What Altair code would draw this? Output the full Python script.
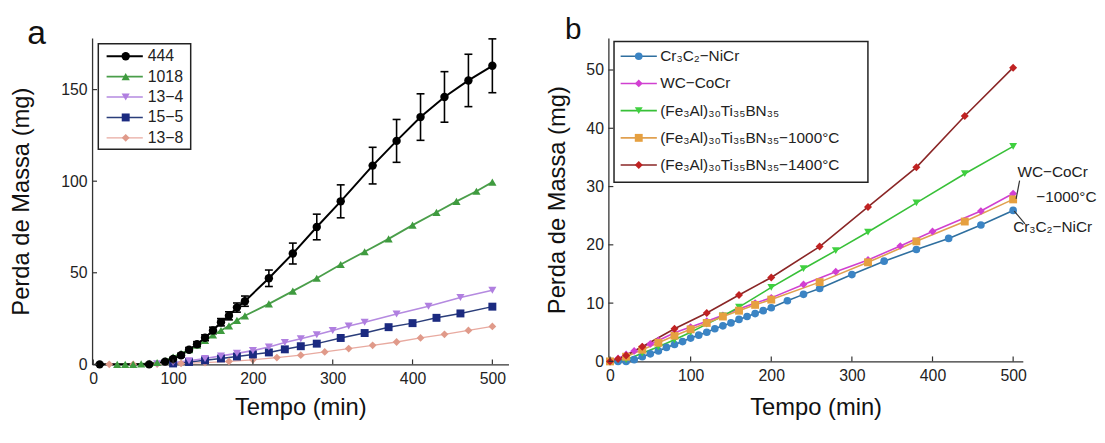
import altair as alt
import pandas as pd

FONT = "Liberation Sans"
AX = "#333333"

# ---------------- Panel a data ----------------
a_names = ["444", "1018", "13−4", "15−5", "13−8"]
a_444_x = [8, 70, 90, 100, 110, 120, 130, 140, 150, 160, 170, 180, 190, 220, 250, 280, 310, 350, 380, 410, 440, 470, 500]
a_444_y = [0, 0, 1.5, 3, 5, 8, 11, 14.5, 18.5, 23, 26.5, 31, 34.5, 47, 60.5, 75, 89, 108.5, 122, 135, 146, 155, 163]
a_444_err = [0.3, 0.4, 0.6, 0.8, 1.0, 1.2, 1.4, 1.6, 1.8, 2.0, 2.2, 2.5, 2.8, 4.5, 5.7, 7, 9, 10, 11.7, 12.7, 13.8, 14.3, 14.7]
a_1018_x = [30, 40, 50, 60, 70, 80, 90, 100, 110, 120, 130, 140, 150, 160, 170, 180, 190, 220, 250, 280, 310, 340, 370, 400, 430, 455, 480, 500]
a_1018_y = [0, 0, 0, 0.3, 0.5, 1, 2, 4, 6, 8, 10.5, 13, 16, 18.5, 21, 24, 26.5, 33, 40, 47, 54.5, 61.5, 68.5, 76, 83, 89, 94.5, 99.5]
a_134_x = [80, 100, 120, 140, 160, 180, 200, 220, 240, 260, 280, 300, 320, 340, 380, 420, 460, 500]
a_134_y = [0.3, 1, 2, 3.2, 4.6, 6, 7.5, 9.5, 11.9, 14, 16.2, 18.5, 20.9, 23, 27.5, 31.7, 36.5, 40.5]
a_155_x = [100, 120, 140, 160, 180, 200, 220, 240, 260, 280, 310, 340, 370, 400, 430, 460, 500]
a_155_y = [0.5, 1.3, 2.2, 3.2, 4.3, 5.4, 6.5, 8.2, 9.9, 11.3, 14.4, 17.1, 20.3, 22.5, 25.4, 27.8, 31.5]
a_138_x = [20, 50, 80, 110, 140, 170, 200, 230, 260, 290, 320, 350, 380, 410, 440, 470, 500]
a_138_y = [0, 0, 0.2, 0.5, 1, 1.6, 2.5, 3.7, 5, 6.8, 8.6, 10.4, 12.2, 14.4, 16.4, 18.5, 20.7]
a_xticks = [0, 100, 200, 300, 400, 500]
a_yticks = [0, 50, 100, 150]

# ---------------- Panel b data ----------------
b_names = ["Cr₃C₂−NiCr", "WC−CoCr", "(Fe₃Al)₃₀Ti₃₅BN₃₅",
           "(Fe₃Al)₃₀Ti₃₅BN₃₅−1000°C", "(Fe₃Al)₃₀Ti₃₅BN₃₅−1400°C"]
b_cr_x = [0, 10, 20, 30, 40, 50, 60, 70, 80, 90, 100, 110, 120, 130, 140, 150, 160, 170, 180, 190, 200, 220, 240, 260, 300, 340, 380, 420, 460, 500]
b_cr_y = [0, 0, 0, 0.3, 0.8, 1.3, 1.8, 2.4, 2.9, 3.4, 4, 4.5, 5, 5.6, 6.1, 6.6, 7.2, 7.7, 8.2, 8.7, 9.2, 10.4, 11.5, 12.5, 14.9, 17.2, 19.2, 21.1, 23.4, 25.9]
b_wc_x = [0, 10, 20, 30, 40, 50, 60, 80, 100, 120, 140, 160, 180, 200, 240, 280, 320, 360, 400, 460, 500]
b_wc_y = [0, 0.5, 1.2, 1.8, 2.5, 3.0, 3.6, 4.9, 5.9, 6.9, 7.9, 9, 10, 10.9, 13.2, 15.4, 17.4, 19.8, 22.3, 25.8, 28.8]
b_fe_x = [0, 20, 40, 60, 80, 100, 120, 140, 160, 200, 240, 280, 320, 380, 440, 500]
b_fe_y = [0, 0.3, 1.4, 2.5, 3.7, 5.0, 6.4, 7.8, 9.3, 12.7, 15.9, 19.0, 22.2, 27.2, 32.2, 36.9]
b_1000_x = [0, 20, 40, 60, 80, 100, 120, 140, 160, 180, 200, 260, 320, 380, 440, 500]
b_1000_y = [0, 0.8, 2.0, 3.2, 4.4, 5.5, 6.6, 7.7, 8.7, 9.7, 10.6, 13.6, 17.0, 20.6, 24.0, 27.8]
b_1400_x = [0, 10, 20, 40, 80, 120, 160, 200, 260, 320, 380, 440, 500]
b_1400_y = [0, 0.4, 1.0, 2.5, 5.6, 8.3, 11.4, 14.4, 19.7, 26.5, 33.3, 42.1, 50.4]
b_xticks = [0, 100, 200, 300, 400, 500]
b_yticks = [0, 10, 20, 30, 40, 50]

ann_text = ["WC−CoCr", "−1000°C", "Cr₃C₂−NiCr"]
ann_x = [549, 566, 549]
ann_y = [32.5, 28.2, 23.1]
lead_x = [503.7, 501.4]
lead_x2 = [508, 514.7]
lead_y = [27.9, 25.8]
lead_y2 = [31.0, 23.6]

panel_tags = ["a", "b"]


def long_df(names, xs, ys):
    rows = []
    for i, (n, x, y) in enumerate(zip(names, xs, ys)):
        for xv, yv in zip(x, y):
            rows.append({"s": n, "o": i, "x": xv, "y": yv})
    return pd.DataFrame(rows)


# ================= Panel a =================
A_W, A_H = 421, 330
xa = alt.Scale(domain=[-1.5, 520.2], nice=False, zero=False)
ya = alt.Scale(domain=[0, 178.2], nice=False)
ax_xa = alt.Axis(values=a_xticks, title="Tempo (min)", titlePadding=10)
ax_ya = alt.Axis(values=a_yticks, title="Perda de Massa (mg)", titlePadding=28)

shape_a = alt.Scale(domain=a_names, range=["circle", "triangle-up", "triangle-down", "square", "diamond"])
fill_a = alt.Scale(domain=a_names, range=["#000000", "#3f9b3f", "#b07fe0", "#1b2a80", "#e09a8a"])
stroke_a = alt.Scale(domain=a_names, range=["#000000", "#4a9e4a", "#b58ae0", "#2a3d7a", "#e8aaa0"])
sw_a = alt.Scale(domain=a_names, range=[2.0, 1.3, 1.3, 1.6, 1.3])
size_a = alt.Scale(domain=a_names, range=[72, 62, 62, 48, 62])

df_a = long_df(a_names, [a_444_x, a_1018_x, a_134_x, a_155_x, a_138_x],
               [a_444_y, a_1018_y, a_134_y, a_155_y, a_138_y])
df_a = df_a.iloc[::-1].reset_index(drop=True)
df_err = pd.DataFrame({"x": a_444_x,
                       "lo": [y - e for y, e in zip(a_444_y, a_444_err)],
                       "hi": [y + e for y, e in zip(a_444_y, a_444_err)]})

base_a = alt.Chart(df_a)
lines_a = base_a.mark_line().encode(
    x=alt.X("x:Q", scale=xa, axis=ax_xa),
    y=alt.Y("y:Q", scale=ya, axis=ax_ya),
    stroke=alt.Stroke("s:N", scale=stroke_a, legend=None),
    strokeWidth=alt.StrokeWidth("s:N", scale=sw_a, legend=None),
    order=alt.Order("o:Q", sort="descending"),
)
err_a = alt.Chart(df_err).mark_rule(color="black", strokeWidth=1.6).encode(
    x=alt.X("x:Q", scale=xa, axis=ax_xa),
    y=alt.Y("lo:Q", scale=ya, axis=ax_ya),
    y2="hi:Q",
)
caplo_a = alt.Chart(df_err).mark_tick(orient="horizontal", size=8, thickness=1.6, color="black", opacity=1).encode(
    x=alt.X("x:Q", scale=xa, axis=ax_xa),
    y=alt.Y("lo:Q", scale=ya, axis=ax_ya),
)
caphi_a = alt.Chart(df_err).mark_tick(orient="horizontal", size=8, thickness=1.6, color="black", opacity=1).encode(
    x=alt.X("x:Q", scale=xa, axis=ax_xa),
    y=alt.Y("hi:Q", scale=ya, axis=ax_ya),
)
pts_a = base_a.mark_point(filled=True, opacity=1).encode(
    x=alt.X("x:Q", scale=xa, axis=ax_xa),
    y=alt.Y("y:Q", scale=ya, axis=ax_ya),
    shape=alt.Shape("s:N", scale=shape_a, legend=None),
    fill=alt.Fill("s:N", scale=fill_a, legend=None),
    size=alt.Size("s:N", scale=size_a, legend=None),
)
ytk_a = alt.Chart(pd.DataFrame({"v": a_yticks})).mark_rule(color=AX, strokeWidth=1.2).encode(
    y=alt.Y("v:Q", scale=ya, axis=ax_ya), x=alt.value(0), x2=alt.value(5))
xtk_a = alt.Chart(pd.DataFrame({"v": a_xticks})).mark_rule(color=AX, strokeWidth=1.2).encode(
    x=alt.X("v:Q", scale=xa, axis=ax_xa), y=alt.value(A_H), y2=alt.value(A_H - 5))

data_a = alt.layer(err_a, caplo_a, caphi_a, lines_a, pts_a, ytk_a, xtk_a)

leg_a = pd.DataFrame({"s": a_names, "r": list(range(len(a_names)))})
ly_a = alt.Y("r:Q", scale=alt.Scale(domain=[0, 4], range=[18.5, 101]), axis=None)
box_a = alt.Chart(pd.DataFrame({"k": [0]})).mark_rect(fill="white", stroke="#222222", strokeWidth=1.5).encode(
    x=alt.value(6.3), x2=alt.value(99.7), y=alt.value(5.9), y2=alt.value(112.5))
legl_a = alt.Chart(leg_a).mark_rule().encode(
    y=ly_a, x=alt.value(14.7), x2=alt.value(51.3),
    stroke=alt.Stroke("s:N", scale=stroke_a, legend=None),
    strokeWidth=alt.StrokeWidth("s:N", scale=sw_a, legend=None))
legp_a = alt.Chart(leg_a).mark_point(filled=True, opacity=1).encode(
    y=ly_a, x=alt.value(34),
    shape=alt.Shape("s:N", scale=shape_a, legend=None),
    fill=alt.Fill("s:N", scale=fill_a, legend=None),
    size=alt.Size("s:N", scale=size_a, legend=None))
legt_a = alt.Chart(leg_a).mark_text(align="left", baseline="middle", fontSize=16, font=FONT, color="#222").encode(
    y=ly_a, x=alt.value(56.3), text="s:N")
tag_a = alt.Chart(pd.DataFrame({"t": [panel_tags[0]]})).mark_text(
    align="center", baseline="alphabetic", fontSize=34, font=FONT, color="#111").encode(
    text="t:N", x=alt.value(-56), y=alt.value(6))

legend_a = alt.layer(box_a, legl_a, legp_a, legt_a, tag_a)
panel_a = alt.layer(data_a, legend_a).resolve_scale(x="independent", y="independent").properties(
    width=A_W, height=A_H)

# ================= Panel b =================
B_W, B_H = 419, 327
xb = alt.Scale(domain=[-2, 512], nice=False, zero=False)
yb = alt.Scale(domain=[0, 55.5], nice=False)
ax_xb = alt.Axis(values=b_xticks, title="Tempo (min)", titlePadding=13)
ax_yb = alt.Axis(values=b_yticks, title="Perda de Massa (mg)", titlePadding=17)

shape_b = alt.Scale(domain=b_names, range=["circle", "diamond", "triangle-down", "square", "diamond"])
fill_b = alt.Scale(domain=b_names, range=["#3b84c4", "#d23fd2", "#3fd03f", "#e6a040", "#c02222"])
stroke_b = alt.Scale(domain=b_names, range=["#2f6f9f", "#d040d0", "#38c038", "#e0a050", "#8a2626"])
size_b = alt.Scale(domain=b_names, range=[60, 65, 60, 48, 65])

df_b = long_df(b_names, [b_cr_x, b_wc_x, b_fe_x, b_1000_x, b_1400_x],
               [b_cr_y, b_wc_y, b_fe_y, b_1000_y, b_1400_y])
base_b = alt.Chart(df_b)
lines_b = base_b.mark_line(strokeWidth=1.6).encode(
    x=alt.X("x:Q", scale=xb, axis=ax_xb),
    y=alt.Y("y:Q", scale=yb, axis=ax_yb),
    stroke=alt.Stroke("s:N", scale=stroke_b, legend=None),
)
pts_b = base_b.mark_point(filled=True, opacity=1).encode(
    x=alt.X("x:Q", scale=xb, axis=ax_xb),
    y=alt.Y("y:Q", scale=yb, axis=ax_yb),
    shape=alt.Shape("s:N", scale=shape_b, legend=None),
    fill=alt.Fill("s:N", scale=fill_b, legend=None),
    size=alt.Size("s:N", scale=size_b, legend=None),
)
ytk_b = alt.Chart(pd.DataFrame({"v": b_yticks})).mark_rule(color=AX, strokeWidth=1.2).encode(
    y=alt.Y("v:Q", scale=yb, axis=ax_yb), x=alt.value(0), x2=alt.value(5))
xtk_b = alt.Chart(pd.DataFrame({"v": b_xticks})).mark_rule(color=AX, strokeWidth=1.2).encode(
    x=alt.X("v:Q", scale=xb, axis=ax_xb), y=alt.value(B_H), y2=alt.value(B_H - 5))
ann_b = alt.Chart(pd.DataFrame({"t": ann_text, "x": ann_x, "y": ann_y})).mark_text(
    align="center", baseline="middle", fontSize=15.5, font=FONT, color="#222").encode(
    x=alt.X("x:Q", scale=xb, axis=ax_xb), y=alt.Y("y:Q", scale=yb, axis=ax_yb), text="t:N")
lead_b = alt.Chart(pd.DataFrame({"x": lead_x, "x2": lead_x2, "y": lead_y, "y2": lead_y2})).mark_rule(
    color="#333", strokeWidth=1.2).encode(
    x=alt.X("x:Q", scale=xb, axis=ax_xb), x2="x2:Q",
    y=alt.Y("y:Q", scale=yb, axis=ax_yb), y2="y2:Q")

data_b = alt.layer(lines_b, pts_b, ytk_b, xtk_b, lead_b, ann_b)

leg_b = pd.DataFrame({"s": b_names, "r": list(range(len(b_names)))})
ly_b = alt.Y("r:Q", scale=alt.Scale(domain=[0, 4], range=[18.5, 128.5]), axis=None)
box_b = alt.Chart(pd.DataFrame({"k": [0]})).mark_rect(fill="white", stroke="#222222", strokeWidth=1.5).encode(
    x=alt.value(5.7), x2=alt.value(262.4), y=alt.value(3.5), y2=alt.value(146))
legl_b = alt.Chart(leg_b).mark_rule(strokeWidth=1.6).encode(
    y=ly_b, x=alt.value(12.4), x2=alt.value(49),
    stroke=alt.Stroke("s:N", scale=stroke_b, legend=None))
legp_b = alt.Chart(leg_b).mark_point(filled=True, opacity=1).encode(
    y=ly_b, x=alt.value(30.7),
    shape=alt.Shape("s:N", scale=shape_b, legend=None),
    fill=alt.Fill("s:N", scale=fill_b, legend=None),
    size=alt.Size("s:N", scale=size_b, legend=None))
legt_b = alt.Chart(leg_b).mark_text(align="left", baseline="middle", fontSize=15.5, font=FONT, color="#222").encode(
    y=ly_b, x=alt.value(52.4), text="s:N")
tag_b = alt.Chart(pd.DataFrame({"t": [panel_tags[1]]})).mark_text(
    align="center", baseline="alphabetic", fontSize=30, font=FONT, color="#111").encode(
    text="t:N", x=alt.value(-35.6), y=alt.value(1))

legend_b = alt.layer(box_b, legl_b, legp_b, legt_b, tag_b)
panel_b = alt.layer(data_b, legend_b).resolve_scale(x="independent", y="independent").properties(
    width=B_W, height=B_H)

chart = alt.hconcat(panel_a, panel_b, spacing=37).resolve_scale(
    x="independent", y="independent", stroke="independent", fill="independent",
    shape="independent", size="independent", strokeWidth="independent"
).properties(
    padding={"left": 1, "top": 5, "right": 0, "bottom": 0}, background="white"
).configure_view(stroke=None).configure_axis(
    grid=False, ticks=False, domainColor=AX, domainWidth=1.3,
    labelFont=FONT, titleFont=FONT, labelFontSize=16, titleFontSize=24,
    labelColor="#222", titleColor="#111", titleFontWeight="normal",
    labelPadding=5
).configure_axisX(labelPadding=6)

chart.save("out.html", embed_options={"renderer": "svg", "actions": False})
